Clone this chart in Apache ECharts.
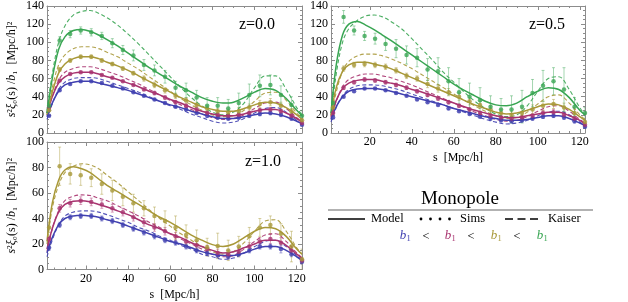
<!DOCTYPE html>
<html><head><meta charset="utf-8">
<script src="https://cdn.jsdelivr.net/npm/echarts@6/dist/echarts.min.js"></script>
<style>html,body{margin:0;padding:0;background:#fff}#c{width:628px;height:302px}</style>
</head><body><div id="c"></div>
<script>
// ---------- data ----------
const sSims = [2.5,7.5,12.5,17.5,22.5,27.5,32.5,37.5,42.5,47.5,52.5,57.5,62.5,67.5,72.5,77.5,82.5,87.5,92.5,97.5,102.5,107.5,112.5,117.5,122.5];
const sModel = [1.5,4,7,10,14,18,22,26,30,35,40,45,50,55,60,65,70,75,80,85,90,95,100,105,110,115,120,122.5];
const xTicksMajor = [20,40,60,80,100,120];
const xTicksMinor = [5,10,15,25,30,35,45,50,55,65,70,75,85,90,95,105,110,115];
const panelLabels = ['z=0.0','z=0.5','z=1.0'];
const yMaxes = [140,140,100];

// z = 0.0
const B0m = [18,33,46,53,56,57,57,55,53,50,47,43,39,35,31,28,24,21,18,16,16,18,20,22,21,18,13,10];
const B0k = [15,32,48,56,60,61,61,60,57,53,49,45,40,35,30,26,21,17,13,11,12,16,22,27,28,23,14,10];
const M0m = [22,40,55,62,66,67,67,65,62,59,55,51,46,42,37,33,28,24,21,19,19,21,24,26,26,22,16,12];
const M0k = [20,40,58,67,71,73,73,71,68,64,59,54,48,42,36,31,26,21,17,15,16,20,27,33,34,27,17,12];
const O0m = [20,45,66,76,82,84,84,82,78,74,69,63,57,51,45,39,34,29,26,24,24,27,31,34,33,28,20,15];
const O0k = [22,50,75,86,93,95,95,93,89,84,77,70,62,54,46,38,31,25,20,18,19,25,35,44,45,36,22,16];
const G0m = [22,60,92,106,113,114,112,108,103,96,88,80,72,65,58,51,45,39,35,33,34,39,45,49,47,38,25,19];
const G0k = [25,65,100,118,130,134,135,132,127,119,109,98,86,74,62,50,39,30,23,20,23,33,50,63,63,48,28,20];
const B0s = [19,47,54,57,57,55,52,49,45,41,37,33,29,26,22,19,17,16,17,19,21,22,20,16,9];
const M0s = [28,58,65,67,67,64,61,57,53,48,44,39,34,30,26,22,20,19,20,22,25,26,24,19,11];
const O0s = [25,70,80,84,84,80,76,71,66,60,53,47,41,36,31,27,24,23,24,28,32,34,30,24,14];
const G0s = [30,102,109,113,111,107,99,91.5,85.5,75,69,62,50,47,39,30,30,27,33,42,52,53,42,31,19];
const B0e = [1,1,1,1,1,1,1,1,1,1,1,1,1,1,1,2,2,2,2,2,2,2,2,2,1];
const M0e = [1,1,1,1,1,1,1,1,1,1,2,2,2,2,2,2,2,2,2,2,2,2,2,2,1];
const O0e = [1,2,2,2,2,2,2,2,2,3,3,3,3,3,3,3,3,3,4,4,4,4,4,3,2];
const G0e = [3,4,4,4,4,4,5,5,6,6,6,7,7,8,8,9,9,10,11,12,12,11,10,9,6];

// z = 0.5
const B5m = [15,29,40,46,48.5,49,49,48,46,43,40,37,34,31,27,24,21,18,16,14,14,15,17,19,19,16,11,8];
const B5k = [12,28,41,48,52,53,53,52,50,47,43,39,35,31,27,23,19,15,12,10,11,14,19,23,24,20,12,8];
const M5m = [18,36,49,55,58,59,59,57,55,52,48,45,41,37,33,29,25,22,19,17,17,19,21,23,23,19,14,10];
const M5k = [16,35,51,59,63,65,65,63,61,57,53,48,43,38,33,28,23,19,15,13,14,18,24,29,30,24,15,11];
const O5m = [20,50,68,75,78,78,76,74,71,66,61,56,51,46,41,36,31,27,23,21,22,25,29,32,31,26,18,14];
const O5k = [18,45,68,79,85,87,87,85,82,77,71,64,57,50,43,36,30,24,19,16,17,23,32,40,42,33,20,15];
const G5m = [22,75,108,120,123,119,114,108,102,94,86,78,70,62,54,47,41,35,31,30,33,40,46,50,48,39,25,20];
const G5k = [20,65,100,115,124,129,130,128,123,115,104,92,80,67,56,45,35,27,21,18,20,30,46,60,62,48,28,20];
const B5s = [17,40,46,49,49,47,44,41,37,34,31,27,24,21,18,16,14,13,14,16,18,19,17,13,7];
const M5s = [22,50,56,59,58,56,53,50,46,42,38,34,30,26,22,19,17,16,17,19,22,23,20,16,9];
const O5s = [28,71,75,76,75,73,69,63,60,54,49,45,40,35,31,26,22,20,22,26,30,32,28,22,12];
const G5s = [33,128,113,107,104,98,93,86,83,70,68,57,45,40,36,29,26,26,29,44,52,57,48,29,22];
const B5e = [1,1,1,1,1,1,1,1,1,1,1,1,1,1,1,2,2,2,2,2,2,2,2,2,1];
const M5e = [1,2,2,2,2,2,2,2,2,2,2,2,2,2,2,2,2,2,2,2,3,3,3,2,2];
const O5e = [2,3,3,3,3,3,3,3,3,4,4,4,4,4,4,4,4,4,5,5,5,5,5,4,3];
const G5e = [4,7,5,5,6,7,10,10,10,12,15,15,15,15,14,12,12,15,18,15,17,15,24,10,6];

// z = 1.0
const B1m = [13,25,35,40,42,42.5,42,41,39,37,34,31,28,25,22,20,17,14,12,11,11,13,16,18,18,15,10,7];
const B1k = [10,23,35,42,45,46,46,45,43,40,37,33,30,26,23,19,16,12,10,8,9,13,18,22,23,18,11,7];
const M1m = [16,32,45,51,53.5,54,53,51,49,46,43,39,35,32,28,25,21,18,15,13,14,17,20,23,23,19,12,9];
const M1k = [14,32,46,54,57.5,58.5,58,56,54,50,46,42,37,33,28,24,20,16,12,10,11,16,22,27,28,22,13,9];
const O1m = [22,52,70,78,80.5,79,76,71,66,61,56,51,46,41,37,32,27,23,19.5,18,20,25,30,33,32,26,16,12];
const O1k = [20,48,66,76,81,83,82,79,74,68,61,54,47,40,34,28,23,18,14,12,14,21,30,38,39,30,17,12];
const B1s = [17,35,41,42,42,40,38,35,32,29,26,23,21,18,15,13,11,10,12,15,18,18,16,12,6];
const M1s = [24,48,52,54,53,51,48,45,41,37,33,30,26,22,19,16,13,12,14,18,22,24,21,15,7];
const O1s = [33,81,75,74,72,67,62,57,52,48,42,38,33,27,23,17.5,18.5,15,18,26,33,35,28,18,8];
const B1e = [2,2,2,2,2,2,2,2,2,2,2,2,2,2,2,2,2,2,2,2,2,2,3,2,2];
const M1e = [2,3,3,3,3,3,3,3,3,3,3,3,3,3,3,3,3,3,3,3,3,4,4,3,2];
const O1e = [4,15,8,8,7,8,8,7,7,6,7,8,9,8,8,7,10,8,8,7,7,7,8,12,8];

// ---------- styles ----------
const FONT = '"Liberation Serif", "Times New Roman", serif';
const FRAME = '#8c8c8c';
const C = {B:'#4040b0', M:'#a8336f', O:'#a89838', G:'#38a552'};
const CL = {B:'rgba(64,64,176,0.45)', M:'rgba(168,51,111,0.45)', O:'rgba(168,152,56,0.45)', G:'rgba(56,165,82,0.45)'};

const grids = [
  {left:47, top:6, width:255, height:127},
  {left:331, top:6, width:254, height:127},
  {left:47, top:142, width:255, height:127.5}
];

const panels = [
  {keys:['B','M','O','G'], model:[B0m,M0m,O0m,G0m], kaiser:[B0k,M0k,O0k,G0k], sims:[B0s,M0s,O0s,G0s], err:[B0e,M0e,O0e,G0e]},
  {keys:['B','M','O','G'], model:[B5m,M5m,O5m,G5m], kaiser:[B5k,M5k,O5k,G5k], sims:[B5s,M5s,O5s,G5s], err:[B5e,M5e,O5e,G5e]},
  {keys:['B','M','O'], model:[B1m,M1m,O1m], kaiser:[B1k,M1k,O1k], sims:[B1s,M1s,O1s], err:[B1e,M1e,O1e]}
];

const xAxes = [], yAxes = [];
const showXLabel = [false, true, true];
grids.forEach((g, gi) => {
  const base = {type:'value', gridIndex:gi, min:1.5, max:122.5, splitLine:{show:false}};
  const lab = {show:false};
  // bottom major
  xAxes.push(Object.assign({}, base, {position:'bottom',
    axisLine:{show:true, onZero:false, lineStyle:{color:FRAME, width:1}},
    axisTick:{show:true, inside:true, length:4, customValues:xTicksMajor, lineStyle:{color:FRAME}},
    axisLabel: showXLabel[gi] ? {show:true, customValues:xTicksMajor, color:'#000', fontFamily:FONT, fontSize:12, margin:3} : lab,
    name: showXLabel[gi] ? 's  [Mpc/h]' : '', nameLocation:'middle', nameGap:19,
    nameTextStyle:{color:'#000', fontFamily:FONT, fontSize:12}
  }));
  // top major
  xAxes.push(Object.assign({}, base, {position:'top',
    axisLine:{show:true, onZero:false, lineStyle:{color:FRAME, width:1}},
    axisTick:{show:true, inside:true, length:4, customValues:xTicksMajor, lineStyle:{color:FRAME}},
    axisLabel:lab}));
  // bottom minor
  xAxes.push(Object.assign({}, base, {position:'bottom',
    axisLine:{show:false, onZero:false},
    axisTick:{show:true, inside:true, length:2, customValues:xTicksMinor, lineStyle:{color:FRAME}},
    axisLabel:lab}));
  // top minor
  xAxes.push(Object.assign({}, base, {position:'top',
    axisLine:{show:false, onZero:false},
    axisTick:{show:true, inside:true, length:2, customValues:xTicksMinor, lineStyle:{color:FRAME}},
    axisLabel:lab}));

  const ybase = {type:'value', gridIndex:gi, min:0, max:yMaxes[gi], interval:20, splitLine:{show:false},
    axisLine:{show:true, onZero:false, lineStyle:{color:FRAME, width:1}},
    axisTick:{show:true, inside:true, length:4, lineStyle:{color:FRAME}},
    minorTick:{show:true, splitNumber:4, length:2, lineStyle:{color:FRAME}}};
  yAxes.push(Object.assign({}, ybase, {position:'left',
    axisLabel:{show:true, color:'#000', fontFamily:FONT, fontSize:12, margin:3},
    name: gi === 1 ? '' : '{i|s}²{i|ξ}₀(s) /{i|b}₁  [Mpc/h]²',
    nameLocation:'middle', nameGap:29,
    nameTextStyle:{color:'#000', fontFamily:FONT, fontSize:12, rich:{i:{fontStyle:'italic', fontFamily:FONT, fontSize:12}}}
  }));
  yAxes.push(Object.assign({}, ybase, {position:'right', axisLabel:{show:false}}));
});

function errSeries(gi, xs, ys, es, color) {
  return {type:'custom', xAxisIndex:gi*4, yAxisIndex:gi*2, clip:true, silent:true, z:1,
    data: xs.map((s,i)=>[s, ys[i], es[i]]),
    renderItem(params, api) {
      const x = api.value(0), y = api.value(1), e = api.value(2);
      const t = api.coord([x, y+e]), b = api.coord([x, y-e]);
      const st = {stroke:color, lineWidth:1};
      return {type:'group', children:[
        {type:'line', shape:{x1:t[0], y1:t[1], x2:b[0], y2:b[1]}, style:st},
        {type:'line', shape:{x1:t[0]-1.5, y1:t[1], x2:t[0]+1.5, y2:t[1]}, style:st},
        {type:'line', shape:{x1:b[0]-1.5, y1:b[1], x2:b[0]+1.5, y2:b[1]}, style:st}
      ]};
    }};
}

const series = [];
panels.forEach((p, gi) => {
  p.keys.forEach((k, ci) => {
    series.push(errSeries(gi, sSims, p.sims[ci], p.err[ci], CL[k]));
    series.push({type:'line', xAxisIndex:gi*4, yAxisIndex:gi*2, smooth:0.35, showSymbol:false, silent:true, z:2,
      data: sModel.map((s,i)=>[s, p.kaiser[ci][i]]),
      lineStyle:{color:C[k], width:1.1, type:[4,2.5], opacity:0.9}});
    series.push({type:'line', xAxisIndex:gi*4, yAxisIndex:gi*2, smooth:0.35, showSymbol:false, silent:true, z:3,
      data: sModel.map((s,i)=>[s, p.model[ci][i]]),
      lineStyle:{color:C[k], width:1.5}});
    series.push({type:'scatter', xAxisIndex:gi*4, yAxisIndex:gi*2, silent:true, z:4, symbolSize:4.5,
      data: sSims.map((s,i)=>[s, p.sims[ci][i]]),
      itemStyle:{color:C[k]}});
  });
});

// ---------- annotations / legend ----------
const T = (x, y, text, size, extra) => Object.assign({type:'text', x, y,
  style:Object.assign({text, fontFamily:FONT, fontSize:size, fill:'#000', align:'center', verticalAlign:'middle'}, extra||{})});
const graphic = [
  T(257, 25, panelLabels[0], 16),
  T(547, 25, panelLabels[1], 16),
  T(263, 162, panelLabels[2], 16),
  T(460, 199, 'Monopole', 19),
  {type:'line', shape:{x1:328, y1:210, x2:593, y2:210}, style:{stroke:'#999', lineWidth:1.5}},
  {type:'line', shape:{x1:328, y1:219, x2:365, y2:219}, style:{stroke:'#000', lineWidth:1.3}},
  T(371, 219, 'Model', 12.5, {align:'left'}),
  {type:'circle', shape:{cx:421, cy:219, r:1.4}, style:{fill:'#000'}},
  {type:'circle', shape:{cx:430.5, cy:219, r:1.4}, style:{fill:'#000'}},
  {type:'circle', shape:{cx:440, cy:219, r:1.4}, style:{fill:'#000'}},
  {type:'circle', shape:{cx:449.5, cy:219, r:1.4}, style:{fill:'#000'}},
  T(460, 219, 'Sims', 12.5, {align:'left'}),
  {type:'line', shape:{x1:505, y1:219, x2:538, y2:219}, style:{stroke:'#000', lineWidth:1.3, lineDash:[8,4.5]}},
  T(548, 219, 'Kaiser', 12.5, {align:'left'}),
];
const bx = [403, 448, 494, 540], bk = ['B','M','O','G'];
bx.forEach((x, i) => {
  graphic.push(T(x, 236, 'b', 13, {fill:C[bk[i]], fontStyle:'italic'}));
  graphic.push(T(x+5.5, 239, '1', 8.5, {fill:C[bk[i]]}));
  if (i < 3) graphic.push(T(x+23, 237, '<', 12.5));
});

const chart = echarts.init(document.getElementById('c'), null, {renderer:'canvas'});
chart.setOption({
  animation:false,
  backgroundColor:'#fff',
  grid: grids,
  xAxis: xAxes,
  yAxis: yAxes,
  series,
  graphic
});
</script></body></html>
